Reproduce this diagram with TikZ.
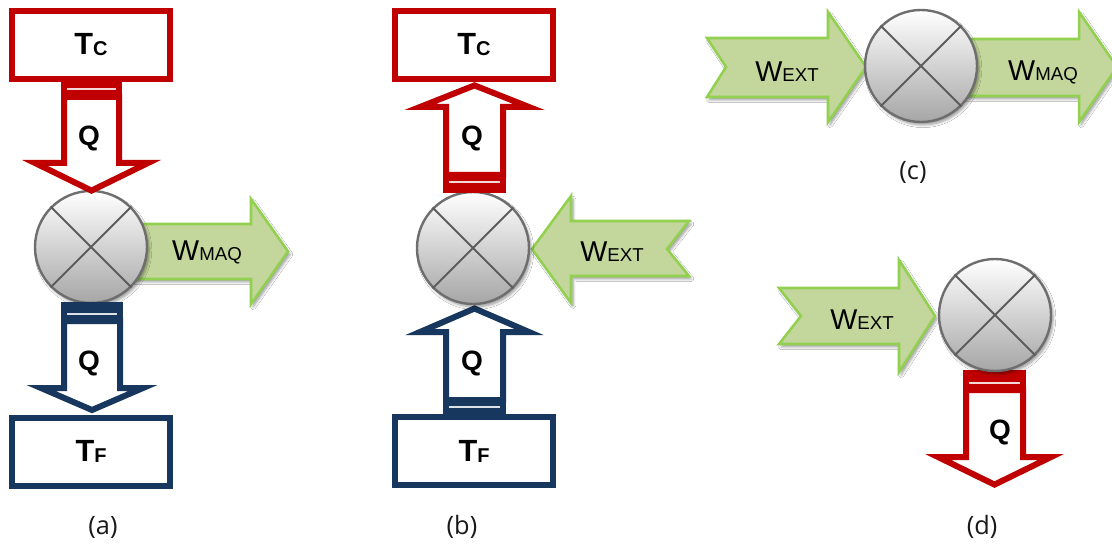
\documentclass[tikz,border=0pt]{standalone}
\usepackage{fontspec}
\setmainfont{Liberation Sans}
\newfontfamily\capfont{Open Sans}
\usetikzlibrary{shadows.blur}

\definecolor{hotred}{RGB}{192,0,0}
\definecolor{coldblue}{RGB}{23,55,94}
\definecolor{workfill}{RGB}{195,214,155}
\definecolor{workline}{RGB}{146,208,80}
\definecolor{ringgray}{RGB}{110,110,110}

\tikzset{
  softshadow/.style={blur shadow={shadow xshift=1.6pt, shadow yshift=-2.2pt,
      shadow opacity=40, shadow blur steps=6, shadow blur radius=2pt}},
  work/.style={softshadow, fill=workfill, draw=workline, line width=1.9pt, line join=miter},
  heatflow/.style={fill=white, line width=4.5pt, line join=miter},
  bandline/.style={draw=white, line width=0.8pt, opacity=0.85},
  engine/.style={circle, softshadow, draw=ringgray, line width=1.8pt,
      top color=white, bottom color=black!35, minimum size=84pt, inner sep=0pt},
  cross/.style={draw=ringgray!85!black, line width=1.5pt},
  reservoir/.style={rectangle, fill=white, line width=4.5pt,
      minimum width=118.5pt, minimum height=51pt, inner sep=0pt},
  qlabel/.style={font=\bfseries\fontsize{21}{21}\selectfont},
  caplabel/.style={font=\capfont\fontsize{19}{19}\selectfont, text=black!90},
}
\newcommand{\tsub}[2]{\textbf{\fontsize{23}{23}\selectfont #1\raisebox{-0.03em}{\fontsize{15}{15}\selectfont #2}}}
\newcommand{\wsub}[1]{{\fontsize{21.5}{21.5}\selectfont W}{\fontsize{14}{14}\selectfont #1}}

\begin{document}
\begin{tikzpicture}[x=0.75pt,y=-0.75pt]
\useasboundingbox (0,0) rectangle (1112,545);
\fill[white] (0,0) rectangle (1112,545);

% ---- work arrows (green)
\path[work] (120,224) -- (251,224) -- (251,199) -- (288,251.5) -- (251,304) -- (251,279) -- (120,279) -- cycle;
\path[work] (532,249) -- (571,196) -- (571,221) -- (689,221) -- (667,249) -- (689,276) -- (571,276) -- (571,303) -- cycle;
\path[work] (707,38) -- (828,38) -- (828,12) -- (866,67) -- (828,122) -- (828,97) -- (707,97) -- (726,67) -- cycle;
\path[work] (940,39) -- (1079,39) -- (1079,12) -- (1117,67) -- (1079,122) -- (1079,96) -- (940,96) -- cycle;
\path[work] (779,288) -- (899,288) -- (899,260) -- (935,316) -- (899,372) -- (899,344) -- (779,344) -- (801,316) -- cycle;

% ---- heat arrow entering engine (b) from below (tip under the engine)
\draw[heatflow, draw=coldblue] (446,400) -- (446,332) -- (420,332) -- (474.5,308.5) -- (529,332) -- (503,332) -- (503,400) -- cycle;
\fill[coldblue] (443,397) rectangle (506,415);
\draw[bandline] (449,407) -- (500,407);

% ---- heat arrow leaving engine (d), band under the engine
\draw[heatflow, draw=hotred] (966,390) -- (966,457) -- (938,457) -- (994.5,484.6) -- (1051,457) -- (1023,457) -- (1023,390) -- cycle;
\fill[hotred] (963,370) rectangle (1026,393);
\draw[bandline] (969,383) -- (1020,383);

% ---- engines
\foreach \nm/\pos in {mA/{(91,247)}, mB/{(473,248)}, mC/{(921,66)}, mD/{(995,315)}}{
  \node[engine] (\nm) at \pos {};
  \draw[cross] (\nm.north west) -- (\nm.south east);
  \draw[cross] (\nm.north east) -- (\nm.south west);
}

% ---- heat arrows, panel (a)
\draw[heatflow, draw=hotred] (64,97) -- (64,163) -- (35,163) -- (91.5,190.6) -- (148,163) -- (119,163) -- (119,97) -- cycle;
\fill[hotred] (61,82) rectangle (122,100);
\draw[bandline] (67,89) -- (116,89);

\draw[heatflow, draw=coldblue] (64,321) -- (64,388) -- (41,388) -- (92,410) -- (143,388) -- (120,388) -- (120,321) -- cycle;
\fill[coldblue] (61,302) rectangle (123,324);
\draw[bandline] (67,314) -- (117,314);

% ---- heat arrow, panel (b) upper
\draw[heatflow, draw=hotred] (446,175) -- (446,107) -- (420,107) -- (474.5,85.4) -- (529,107) -- (503,107) -- (503,175) -- cycle;
\fill[hotred] (443,172) rectangle (506,193);
\draw[bandline] (449,182) -- (500,182);

% ---- reservoirs
\node[reservoir, draw=hotred]   (hotA)  at (91,45)    {\tsub{T}{C}};
\node[reservoir, draw=coldblue] (coldA) at (91,451.5) {\tsub{T}{F}};
\node[reservoir, draw=hotred]   (hotB)  at (474,45)   {\tsub{T}{C}};
\node[reservoir, draw=coldblue] (coldB) at (474,451)  {\tsub{T}{F}};

% ---- heat labels
\node[qlabel] (qA1) at (89,138)   {Q};
\node[qlabel] (qA2) at (89,363)   {Q};
\node[qlabel] (qB1) at (472,138)  {Q};
\node[qlabel] (qB2) at (472,363)  {Q};
\node[qlabel] (qD)  at (1000,432) {Q};

% ---- work labels
\node (wA)  at (207,252)  {\wsub{MAQ}};
\node (wB)  at (612,252)  {\wsub{EXT}};
\node (wC1) at (787,72)   {\wsub{EXT}};
\node (wC2) at (1043,72)  {\wsub{MAQ}};
\node (wD)  at (862,320)  {\wsub{EXT}};

% ---- panel captions
\node[caplabel] (capA) at (103,527) {(a)};
\node[caplabel] (capB) at (462,527) {(b)};
\node[caplabel] (capC) at (913,172) {(c)};
\node[caplabel] (capD) at (982,527) {(d)};
\end{tikzpicture}
\end{document}
